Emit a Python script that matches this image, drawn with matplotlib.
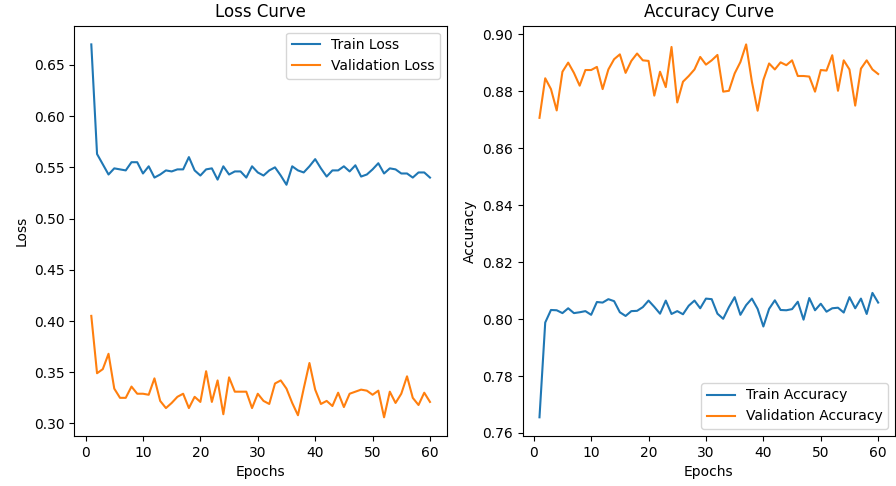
import numpy as np
import matplotlib.pyplot as plt

epochs = np.arange(1, 61)

train_loss = [0.670, 0.563, 0.553, 0.543, 0.549, 0.548, 0.547, 0.555, 0.555, 0.544,
              0.551, 0.540, 0.543, 0.547, 0.546, 0.548, 0.548, 0.560, 0.547, 0.542,
              0.548, 0.549, 0.538, 0.551, 0.543, 0.546, 0.546, 0.540, 0.551, 0.545,
              0.542, 0.547, 0.550, 0.542, 0.533, 0.551, 0.547, 0.545, 0.551, 0.558,
              0.549, 0.541, 0.547, 0.547, 0.551, 0.546, 0.552, 0.541, 0.543, 0.548,
              0.554, 0.544, 0.549, 0.548, 0.544, 0.544, 0.540, 0.545, 0.545, 0.540]

val_loss = [0.405, 0.349, 0.353, 0.368, 0.334, 0.325, 0.325, 0.336, 0.329, 0.329,
            0.328, 0.344, 0.322, 0.315, 0.320, 0.326, 0.329, 0.315, 0.326, 0.321,
            0.351, 0.321, 0.342, 0.309, 0.345, 0.331, 0.331, 0.331, 0.315, 0.329,
            0.322, 0.319, 0.339, 0.342, 0.334, 0.320, 0.308, 0.334, 0.359, 0.333,
            0.319, 0.322, 0.317, 0.330, 0.316, 0.329, 0.331, 0.333, 0.332, 0.328,
            0.332, 0.306, 0.331, 0.320, 0.329, 0.346, 0.325, 0.318, 0.330, 0.321]

train_acc = [0.7655, 0.7988, 0.8032, 0.8031, 0.8021, 0.8038, 0.8021, 0.8024, 0.8028, 0.8015,
             0.8060, 0.8058, 0.8070, 0.8063, 0.8024, 0.8011, 0.8028, 0.8029, 0.8042, 0.8065,
             0.8043, 0.8019, 0.8065, 0.8018, 0.8028, 0.8017, 0.8047, 0.8065, 0.8038, 0.8072,
             0.8070, 0.8019, 0.8001, 0.8042, 0.8077, 0.8015, 0.8049, 0.8072, 0.8036, 0.7974,
             0.8036, 0.8066, 0.8032, 0.8031, 0.8035, 0.8061, 0.7998, 0.8074, 0.8031, 0.8054,
             0.8026, 0.8038, 0.8040, 0.8023, 0.8077, 0.8038, 0.8072, 0.8018, 0.8092, 0.8058]

val_acc = [0.8707, 0.8846, 0.8808, 0.8733, 0.8869, 0.8901, 0.8865, 0.8820, 0.8875, 0.8875,
           0.8886, 0.8808, 0.8877, 0.8913, 0.8930, 0.8865, 0.8907, 0.8933, 0.8909, 0.8907,
           0.8785, 0.8869, 0.8815, 0.8956, 0.8761, 0.8834, 0.8854, 0.8877, 0.8921, 0.8894,
           0.8909, 0.8928, 0.8799, 0.8802, 0.8863, 0.8903, 0.8965, 0.8834, 0.8732, 0.8840,
           0.8898, 0.8877, 0.8902, 0.8892, 0.8909, 0.8854, 0.8854, 0.8852, 0.8799, 0.8875,
           0.8873, 0.8927, 0.8802, 0.8909, 0.8877, 0.8750, 0.8880, 0.8909, 0.8877, 0.8861]


def main():
    fig = plt.figure(figsize=(8.96, 4.86), dpi=100)
    plt.subplots_adjust(left=0.083, right=0.999, bottom=0.103, top=0.947, wspace=0.203)

    # Loss
    plt.subplot(1, 2, 1)
    plt.plot(epochs, train_loss, label="Train Loss")
    plt.plot(epochs, val_loss, label="Validation Loss")
    plt.title("Loss Curve")
    plt.xlabel("Epochs")
    plt.ylabel("Loss")
    plt.legend(loc="upper right")

    # Accuracy
    plt.subplot(1, 2, 2)
    plt.plot(epochs, train_acc, label="Train Accuracy")
    plt.plot(epochs, val_acc, label="Validation Accuracy")
    plt.title("Accuracy Curve")
    plt.xlabel("Epochs")
    plt.ylabel("Accuracy")
    plt.legend(loc="lower right")

    fig.savefig("out.png", dpi=100)
    plt.close(fig)


if __name__ == "__main__":
    main()
